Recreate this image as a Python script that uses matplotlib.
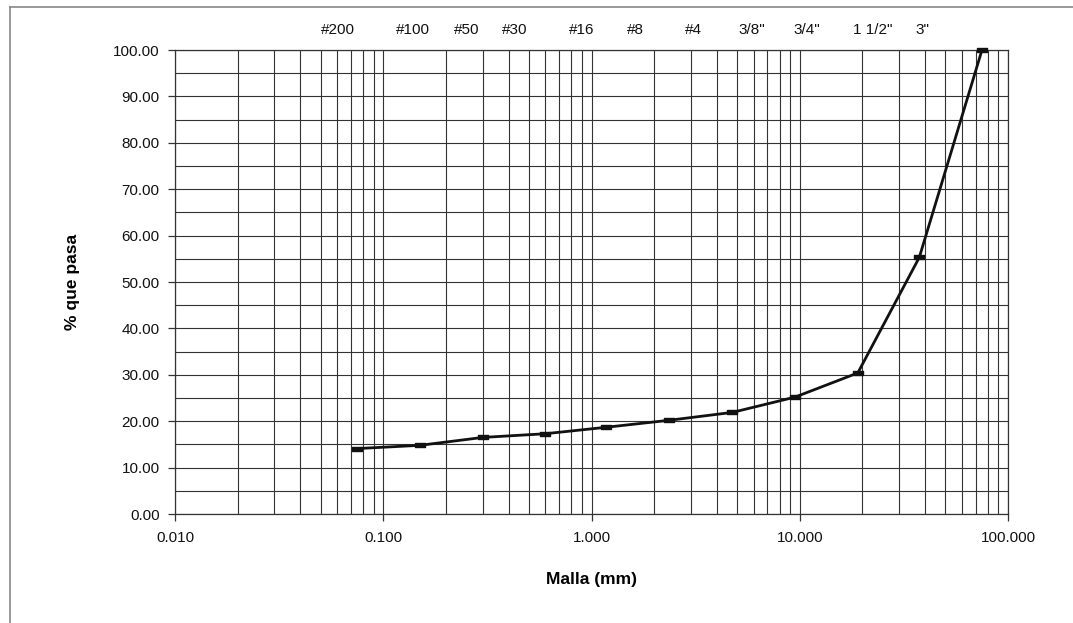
import matplotlib
matplotlib.use("Agg")
import matplotlib.pyplot as plt
import numpy as np
from matplotlib.lines import Line2D
from matplotlib.ticker import FixedLocator, FuncFormatter, NullFormatter, LogLocator
from matplotlib.path import Path

plt.rcParams['font.family'] = ['Liberation Sans', 'DejaVu Sans']

# Data
malla_mm = [0.075, 0.15, 0.3, 0.6, 1.18, 2.36, 4.75, 9.5, 19.0, 37.5, 75.0]
pct_pasa = [14.1, 14.8, 16.5, 17.3, 18.7, 20.2, 21.9, 25.2, 30.4, 55.3, 100.0]
sieve_labels = ['#200', '#100', '#50', '#30', '#16', '#8', '#4', '3/8"', '3/4"', '1 1/2"', '3"']
# horizontal pixel centres of the sieve labels above the chart
sieve_label_px = [338, 413, 467, 515, 582, 635, 693, 752, 807, 873, 922]
y_ticks = [0, 10, 20, 30, 40, 50, 60, 70, 80, 90, 100]
x_ticks = [0.01, 0.1, 1, 10, 100]

W, H = 1073, 623
fig = plt.figure(figsize=(W / 100, H / 100), dpi=100)
fig.patch.set_facecolor('white')

ax = fig.add_axes([175 / W, 1 - 514 / H, (1008 - 175) / W, (514 - 50) / H])
ax.set_xscale('log')
ax.set_xlim(0.01, 100)
ax.set_ylim(0, 100)

gc = '#333333'
# grid
ax.xaxis.set_major_locator(FixedLocator(x_ticks))
ax.xaxis.set_minor_locator(LogLocator(base=10, subs=np.arange(2, 10)))
ax.xaxis.set_minor_formatter(NullFormatter())
ax.xaxis.set_major_formatter(FuncFormatter(lambda v, p: f"{v:.3f}"))
ax.yaxis.set_major_locator(FixedLocator(y_ticks))
ax.yaxis.set_minor_locator(FixedLocator([5, 15, 25, 35, 45, 55, 65, 75, 85, 95]))
ax.yaxis.set_major_formatter(FuncFormatter(lambda v, p: f"{v:.2f}"))
ax.grid(True, which='both', color=gc, linewidth=0.8)
ax.set_axisbelow(True)

for s in ax.spines.values():
    s.set_color(gc)
    s.set_linewidth(0.9)

ax.tick_params(axis='both', which='major', direction='out', length=5, width=0.9,
               color=gc, labelsize=11, labelcolor='#111111')
ax.tick_params(axis='y', which='minor', length=0)
ax.tick_params(axis='x', which='minor', length=0)
ax.tick_params(axis='x', which='major', pad=7)
ax.tick_params(axis='y', which='major', pad=6)

# rectangular marker
rect = Path([(-1, -0.45), (1, -0.45), (1, 0.45), (-1, 0.45), (-1, -0.45)],
            [Path.MOVETO, Path.LINETO, Path.LINETO, Path.LINETO, Path.CLOSEPOLY])
ax.plot(malla_mm, pct_pasa, color='#111111', linewidth=2.0, marker=rect,
        markersize=7, markerfacecolor='#111111', markeredgecolor='#111111', zorder=5,
        clip_on=False)

ax.set_xlabel('Malla (mm)', fontsize=12.5, fontweight='bold', labelpad=20)
ax.set_ylabel('% que pasa', fontsize=12.5, fontweight='bold', labelpad=24)

for lbl, px in zip(sieve_labels, sieve_label_px):
    fig.text(px / W, 1 - 30 / H, lbl, ha='center', va='center', fontsize=11,
             color='#111111')

# outer chart frame (top and left visible)
fig.add_artist(Line2D([10 / W, 1.0], [1 - 7 / H, 1 - 7 / H], color='#888888', linewidth=1.2))
fig.add_artist(Line2D([10 / W, 10 / W], [1 - 7 / H, 0.0], color='#888888', linewidth=1.2))

fig.savefig('out.png', dpi=100, facecolor='white')
